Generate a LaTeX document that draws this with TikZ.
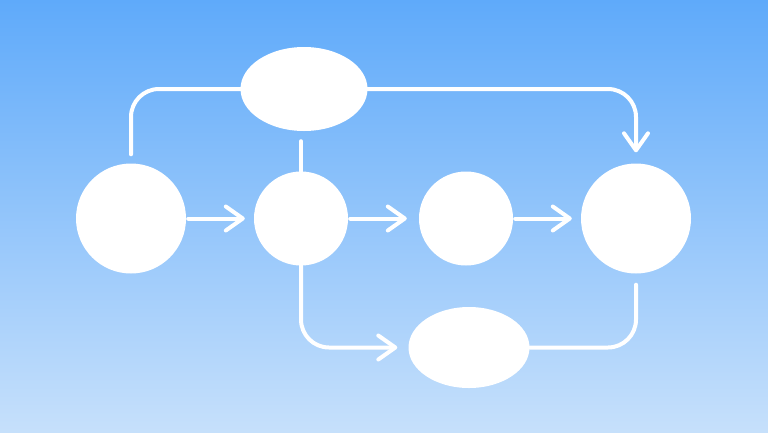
\documentclass[tikz,border=0pt]{standalone}
\usepackage{tikz}
\usetikzlibrary{shapes.geometric}
\usetikzlibrary{arrows.meta}
\usetikzlibrary{calc}
\definecolor{skytop}{RGB}{95,170,250}
\definecolor{skymid}{RGB}{130,189,249}
\definecolor{skybot}{RGB}{198,224,251}
\begin{document}
\begin{tikzpicture}
      [
      x=1pt,y=-1pt,
      point/.style={circle,fill=white,inner sep=0pt},
      blob/.style={ellipse,fill=white,inner sep=0pt},
      link/.style={white,line width=4pt,line cap=round,rounded corners=28pt},
      flow/.style={link,-{Straight Barb[length=17pt,width=24pt,round]}}
      ]
      \useasboundingbox (0,0) rectangle (768,432);
      \shade [top color=skytop,middle color=skymid,bottom color=skybot] (0,0) rectangle (768,432);
      \node (a) at (131,218.5) [point,minimum size=110pt] {};
      \node (b) at (301,218.5) [point,minimum size=94pt] {};
      \node (c) at (466,218.5) [point,minimum size=94pt] {};
      \node (d) at (636,218.5) [point,minimum size=110pt] {};
      \node (top) at (304,89) [blob,minimum width=127pt,minimum height=84pt] {};
      \node (bot) at (469,347.5) [blob,minimum width=121pt,minimum height=81pt] {};
      \draw [flow, shorten <=2pt, shorten >=9pt] (a) -- (b);
      \draw [flow, shorten <=2pt, shorten >=12pt] (b) -- (c);
      \draw [flow, shorten <=2pt, shorten >=9pt] (c) -- (d);
      \draw [link, shorten <=9pt] (a.north) |- (top.west);
      \draw [flow, shorten >=11pt] (top.east) -| (d.north);
      \draw [link, shorten >=10pt] (b.north) -- (b.north |- top.south);
      \draw [flow, shorten >=11pt] (b.south) |- (bot.west);
      \draw [link, shorten >=11pt] (bot.east) -| (d.south);
    \end{tikzpicture}
\end{document}
